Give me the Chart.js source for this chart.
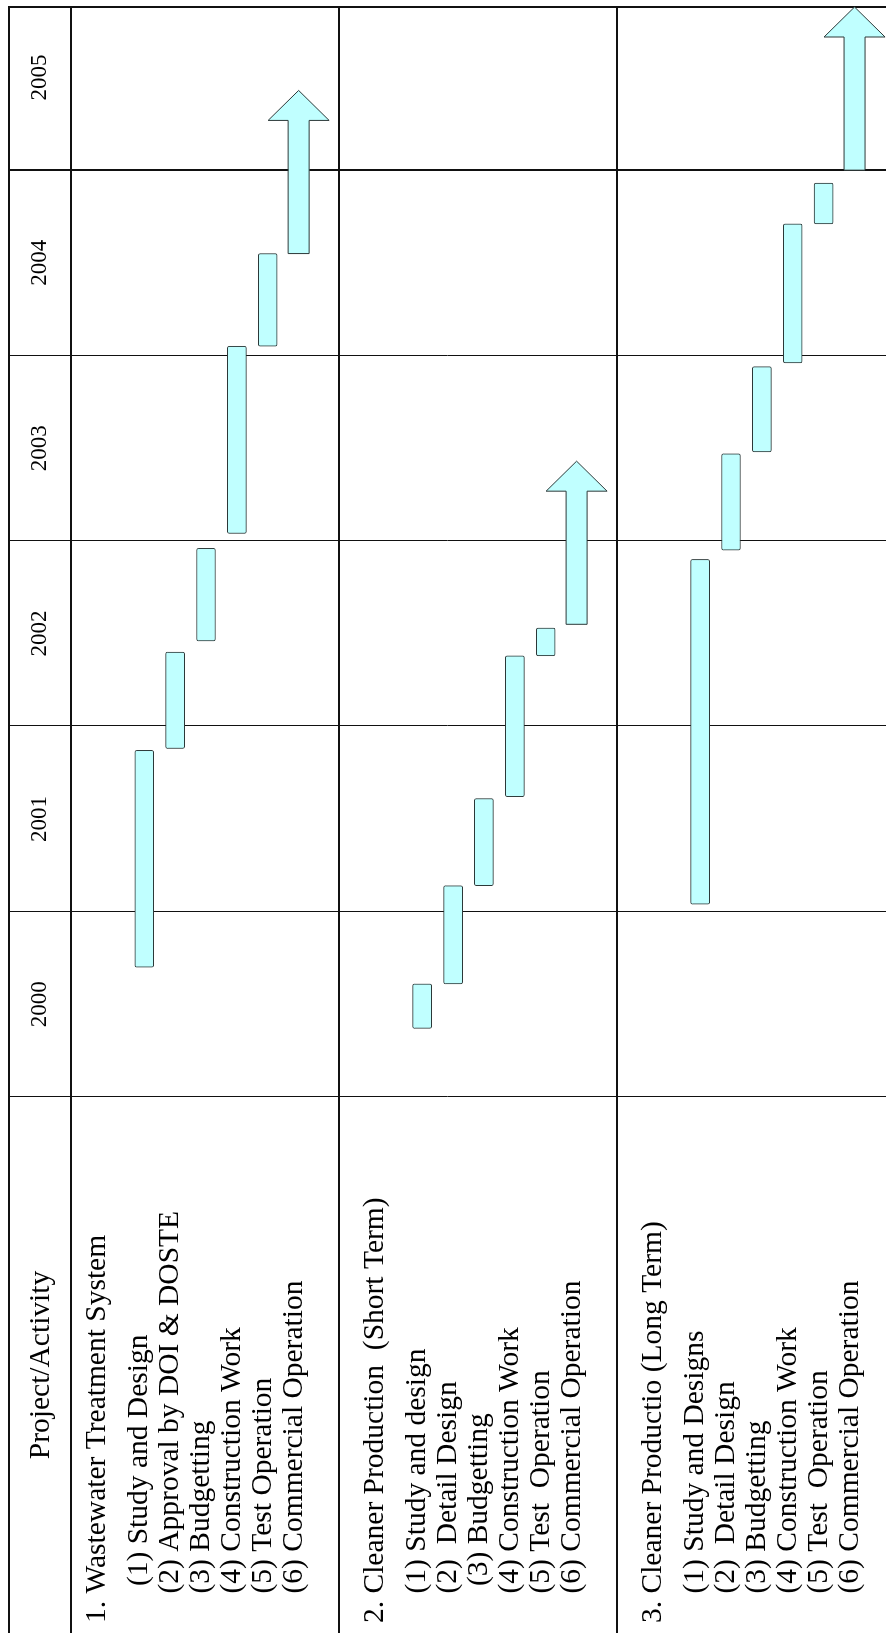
<!DOCTYPE html>
<html>
<head>
<meta charset="utf-8">
<title>Project schedule 2000-2005</title>
<script src="https://cdn.jsdelivr.net/npm/chart.js@4.4.1/dist/chart.umd.min.js"></script>
<style>
  html, body { margin: 0; padding: 0; background: #fff; overflow: hidden; }
  /* the schedule is laid out landscape and turned a quarter left */
  #frame {
    position: absolute; left: 0; top: 0;
    width: 1633px; height: 886px;
    transform-origin: 0 0;
    transform: translate(0px, 1633px) rotate(-90deg);
    overflow: hidden;
    background: #fff;
  }
</style>
</head>
<body>
<div id="frame"><canvas id="plan" width="1633" height="886"></canvas></div>
<script>
const years = [2000, 2001, 2002, 2003, 2004, 2005]
const yearEnd = 2005.88

const projects = [
  "1. Wastewater Treatment System",
  "2. Cleaner Production  (Short Term)",
  "3. Cleaner Productio (Long Term)"
]

const wwtActivities = ["     (1) Study and Design", "    (2) Approval by DOI & DOSTE", "    (3) Budgetting",
  "    (4) Construction Work", "    (5) Test Operation", "    (6) Commercial Operation"]
const shortActivities = ["    (1) Study and design", "    (2)  Detail Design", "     (3) Budgetting",
  "    (4) Construction Work", "    (5) Test  Operation", "    (6) Commercial Operation"]
const longActivities = ["    (1) Study and Designs", "    (2)  Detail Design", "    (3) Budgetting",
  "    (4) Construction Work", "    (5) Test  Operation", "    (6) Commercial Operation"]

// start / end of each activity (fraction of year); the last one is open ended
const wwtStart = [2000.70, 2001.88, 2002.46, 2003.04, 2004.05, 2004.55]
const wwtEnd = [2001.87, 2002.40, 2002.96, 2004.05, 2004.55, 2005.43]
const shortStart = [2000.37, 2000.61, 2001.14, 2001.62, 2002.38, 2002.55]
const shortEnd = [2000.61, 2001.14, 2001.61, 2002.38, 2002.53, 2003.43]
const longStart = [2001.04, 2002.95, 2003.48, 2003.96, 2004.71, 2005.00]
const longEnd = [2002.90, 2003.47, 2003.94, 2004.71, 2004.93, 2005.88]

const activities = [wwtActivities, shortActivities, longActivities]
const starts = [wwtStart, shortStart, longStart]
const ends = [wwtEnd, shortEnd, longEnd]

// every project takes 9 lanes: header, blank, then its six activities
const laneCount = 26
const lanes = []
const bars = []
const arrows = []
for (let i = 0; i < laneCount; i++) { lanes.push("lane " + i); bars.push(null); arrows.push(null) }
projects.forEach((p, pi) => {
  activities[pi].forEach((a, k) => {
    const lane = pi * 9 + 2 + k
    lanes[lane] = a.trim()
    const span = [starts[pi][k], ends[pi][k]]
    if (k < 5) bars[lane] = span
    else arrows[lane] = span
  })
})

const FILL = "#c0ffff"
const EDGE = "#2c3838"
const SERIF = '"Liberation Serif", "Times New Roman", serif'

const tablePlugin = {
  id: "table",
  beforeDraw(chart) {
    const { ctx, width, height } = chart
    ctx.save()
    ctx.fillStyle = "#fff"
    ctx.fillRect(0, 0, width, height)
    ctx.restore()
  },
  beforeDatasetsDraw(chart) {
    const { ctx, chartArea, height, scales: { x, y } } = chart
    const top = chartArea.top - 58
    const headerBottom = chartArea.top + 3.6
    const right = Math.round(x.getPixelForValue(yearEnd))

    const hline = (v, w) => {
      ctx.lineWidth = w
      const yy = w % 2 ? Math.round(v) + 0.5 : Math.round(v)
      ctx.beginPath(); ctx.moveTo(0, yy); ctx.lineTo(right + 1, yy); ctx.stroke()
    }
    const vline = (u, w, from) => {
      ctx.lineWidth = w
      const xx = w % 2 ? Math.round(u) + 0.5 : Math.round(u)
      ctx.beginPath(); ctx.moveTo(xx, from); ctx.lineTo(xx, height); ctx.stroke()
    }

    ctx.save()
    ctx.strokeStyle = "#111"
    // year columns
    years.forEach(yr => {
      const w = yr === 2005 ? 2 : 1
      vline(x.getPixelForValue(yr), w, top)
    })
    vline(right, 2, top - 1)
    // header row and project rows
    hline(top, 2)
    hline(headerBottom, 2)
    hline(y.getPixelForValue(9 - 0.68), 2)
    hline(y.getPixelForValue(18 - 0.68), 2)

    ctx.fillStyle = "#000"
    ctx.textAlign = "center"
    ctx.textBaseline = "middle"
    ctx.font = "23px " + SERIF
    years.forEach(yr => ctx.fillText(String(yr), x.getPixelForValue(yr + 0.5), (top + headerBottom) / 2))

    ctx.font = "29.5px " + SERIF
    ctx.textBaseline = "alphabetic"
    ctx.fillText("Project/Activity", chartArea.left / 2, top + 40)

    ctx.textAlign = "left"
    projects.forEach((p, pi) => {
      ctx.fillText(p, 10, y.getPixelForValue(pi * 9 + 1) - 8)
      activities[pi].forEach((a, k) => {
        ctx.fillText(a, 10, y.getPixelForValue(pi * 9 + 2 + k) + 3)
      })
    })
    ctx.restore()
  },
  afterDatasetsDraw(chart) {
    // commercial operation keeps going: drawn as an arrow along its bar
    const { ctx } = chart
    const meta = chart.getDatasetMeta(1)
    const shaft = 10.5, head = 30.5, headLen = 30
    ctx.save()
    ctx.fillStyle = FILL
    ctx.strokeStyle = EDGE
    ctx.lineWidth = 1
    meta.data.forEach((el, i) => {
      if (!arrows[i]) return
      const { x: tip, base, y: yc } = el.getProps(["x", "base", "y"], true)
      const neck = tip - headLen
      ctx.beginPath()
      ctx.moveTo(base, yc - shaft)
      ctx.lineTo(neck, yc - shaft)
      ctx.lineTo(neck, yc - head)
      ctx.lineTo(tip, yc)
      ctx.lineTo(neck, yc + head)
      ctx.lineTo(neck, yc + shaft)
      ctx.lineTo(base, yc + shaft)
      ctx.closePath()
      ctx.fill()
      ctx.stroke()
    })
    ctx.restore()
  }
}

new Chart(document.getElementById("plan"), {
  type: "bar",
  data: {
    labels: lanes,
    datasets: [{
      label: "Activity",
      data: bars,
      backgroundColor: FILL,
      borderColor: EDGE,
      borderWidth: 1,
      borderRadius: 2,
      borderSkipped: false,
      barThickness: 19,
      grouped: false
    }, {
      label: "Commercial Operation",
      data: arrows,
      backgroundColor: "rgba(0,0,0,0)",
      borderWidth: 0,
      barThickness: 21,
      grouped: false
    }]
  },
  options: {
    indexAxis: "y",
    responsive: false,
    animation: false,
    devicePixelRatio: 1,
    layout: { padding: { left: 536, right: 7, top: 67, bottom: 16 } },
    plugins: { legend: { display: false }, tooltip: { enabled: false } },
    scales: {
      x: { type: "linear", min: 2000, max: yearEnd, display: false },
      y: { type: "category", labels: lanes, display: false }
    }
  },
  plugins: [tablePlugin]
})
</script>
</body>
</html>
